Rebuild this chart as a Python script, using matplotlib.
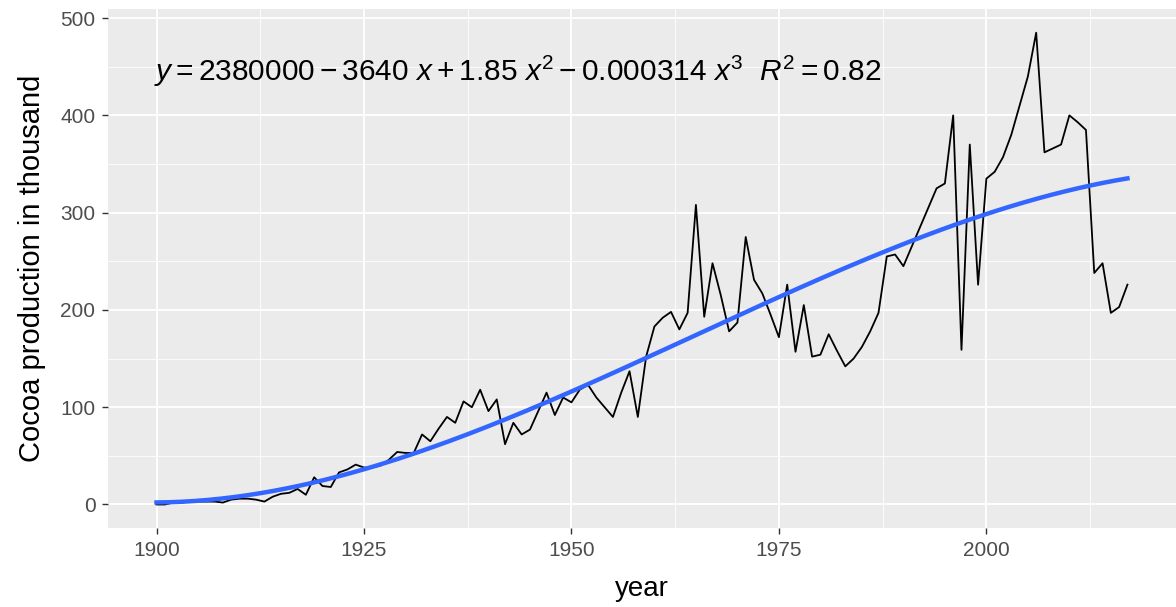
import numpy as np
import matplotlib
matplotlib.use("Agg")
import matplotlib.pyplot as plt
from matplotlib.ticker import MultipleLocator

plt.rcParams['font.family'] = ['Liberation Sans', 'DejaVu Sans']
plt.rcParams['mathtext.fontset'] = 'custom'
plt.rcParams['mathtext.rm'] = 'Liberation Sans'
plt.rcParams['mathtext.it'] = 'Liberation Sans:italic'

years = np.arange(1900, 2018)
production = [
    0, 0, 2, 2, 3, 3, 3, 3, 2, 5,            # 1900-1909
    6, 6, 5, 3, 8, 11, 12, 16, 10, 28,       # 1910-1919
    19, 18, 33, 36, 41, 38, 38, 40, 46, 54,  # 1920-1929
    53, 53, 72, 65, 78, 90, 84, 106, 100, 118,  # 1930-1939
    96, 108, 62, 84, 72, 77, 96, 115, 92, 110,  # 1940-1949
    105, 118, 123, 110, 100, 90, 115, 137, 90, 152,  # 1950-1959
    183, 192, 198, 180, 197, 308, 193, 248, 215, 178,  # 1960-1969
    187, 275, 231, 217, 195, 172, 226, 157, 205, 152,  # 1970-1979
    154, 175, 158, 142, 150, 162, 178, 197, 255, 257,  # 1980-1989
    245, 265, 285, 305, 325, 330, 400, 159, 370, 226,  # 1990-1999
    335, 342, 357, 380, 410, 440, 485, 362, 366, 370,  # 2000-2009
    400, 393, 385, 238, 248, 197, 203, 226,            # 2010-2017
]
production = np.array(production, dtype=float)

equation = (r"$y = 2380000 - 3640\ x + 1.85\ x^{2} - 0.000314\ x^{3}"
            r"\ \ R^{2} = 0.82$")

# cubic fit like geom_smooth(method = lm, formula = y ~ poly(x, 3))
coef = np.polyfit(years - 1950, production, 3)
xs = np.linspace(years.min(), years.max(), 300)
ys = np.polyval(coef, xs - 1950)

fig = plt.figure(figsize=(11.76, 6.07), dpi=100)
ax = fig.add_axes([0.0918, 0.130, 0.9082, 0.855])
ax.set_facecolor('#EBEBEB')

ax.plot(years, production, color='black', lw=1.3, zorder=3)
ax.plot(xs, ys, color='#3366FF', lw=3.2, zorder=4)

ax.set_xlim(1894.15, 2022.85)
ax.set_ylim(-24.25, 509.25)
ax.xaxis.set_major_locator(MultipleLocator(25))
ax.xaxis.set_minor_locator(MultipleLocator(12.5))
ax.yaxis.set_major_locator(MultipleLocator(100))
ax.yaxis.set_minor_locator(MultipleLocator(50))
ax.grid(which='major', color='white', lw=1.3, zorder=0)
ax.grid(which='minor', color='white', lw=0.6, zorder=0)
ax.set_axisbelow(True)
for s in ax.spines.values():
    s.set_visible(False)
ax.tick_params(which='major', length=4, width=1, color='#333333',
               labelcolor='#4D4D4D', labelsize=15, pad=5)
ax.tick_params(which='minor', length=0)

ax.set_xlabel('year', fontsize=20, labelpad=12)
ax.set_ylabel('Cocoa production in thousand', fontsize=21, labelpad=10)

ax.text(1899.7, 445, equation, fontsize=21.5, ha='left', va='center',
        color='black', zorder=5)

fig.savefig('out.png', dpi=100)
